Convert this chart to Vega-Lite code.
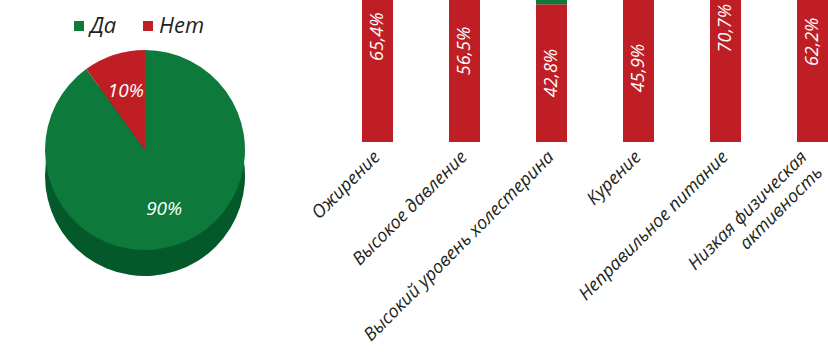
{
  "$schema": "https://vega.github.io/schema/vega-lite/v6.json",
  "padding": 0,
  "spacing": 0,
  "background": "white",
  "config": {"view": {"stroke": null}, "font": "Open Sans"},
  "datasets": {
    "pie": [
      {"part": "Да", "value": 90},
      {"part": "Нет", "value": 10}
    ],
    "bars": [
      {"factor": "Ожирение", "value": 65.4},
      {"factor": "Высокое давление", "value": 56.5},
      {"factor": "Высокий уровень холестерина", "value": 42.8},
      {"factor": "Курение", "value": 45.9},
      {"factor": "Неправильное питание", "value": 70.7},
      {"factor": "Низкая физическая активность", "value": 62.2}
    ]
  },
  "hconcat": [
    {
      "width": 290,
      "height": 300,
      "data": {"name": "pie"},
      "transform": [{"calculate": "datum.value + '%'", "as": "lbl"}],
      "encoding": {
        "theta": {"field": "value", "type": "quantitative", "stack": true},
        "order": {"field": "part", "sort": "ascending"}
      },
      "layer": [
        {
          "mark": {"type": "arc", "radius": 100, "yOffset": 26, "color": "#03592a"},
          "encoding": {}
        },
        {
          "mark": {"type": "arc", "radius": 100},
          "encoding": {
            "color": {
              "field": "part",
              "type": "nominal",
              "scale": {"domain": ["Да", "Нет"], "range": ["#0d7a3c", "#be1e24"]},
              "legend": {
                "title": null,
                "orient": "none",
                "direction": "horizontal",
                "legendX": 68,
                "legendY": 15,
                "symbolType": "square",
                "symbolSize": 100,
                "labelFontSize": 22,
                "labelFont": "Open Sans",
                "labelFontStyle": "italic",
                "labelColor": "#231f20",
                "labelOffset": 0,
                "columnPadding": 20
              }
            }
          }
        },
        {
          "mark": {"type": "text", "radius": 62, "fontStyle": "italic", "fontSize": 19, "color": "white"},
          "encoding": {"text": {"field": "lbl"}}
        }
      ]
    },
    {
      "width": 538,
      "height": 142,
      "data": {"name": "bars"},
      "transform": [
        {"calculate": "datum.value / 2", "as": "mid"},
        {"calculate": "replace(format(datum.value, '.1f'), '.', ',') + '%'", "as": "lbl"}
      ],
      "encoding": {
        "x": {
          "field": "factor",
          "type": "nominal",
          "sort": null,
          "scale": {"paddingInner": 0.6437, "paddingOuter": 0.4138, "align": 1},
          "axis": {
            "title": null,
            "labelAngle": -45,
            "labelAlign": "right",
            "labelBaseline": "middle",
            "labelFontSize": 18,
            "labelFont": "Open Sans",
            "labelFontStyle": "italic",
            "labelColor": "#231f20",
            "domain": false,
            "ticks": false,
            "labelPadding": 12,
            "labelOffset": {"condition": {"test": "datum.value == 'Низкая физическая активность'", "value": -8}, "value": 0},
            "labelLimit": 500,
            "labelOverlap": false,
            "labelLineHeight": 22,
            "labelExpr": "datum.value == 'Низкая физическая активность' ? ['Низкая физическая', 'активность'] : datum.label"
          }
        }
      },
      "layer": [
        {
          "mark": {"type": "bar", "color": "#be1e24", "clip": true},
          "encoding": {
            "y": {"field": "value", "type": "quantitative", "scale": {"domain": [0, 44.1], "nice": false, "zero": true}, "axis": null}
          }
        },
        {
          "mark": {"type": "bar", "color": "#0d7a3c", "clip": true},
          "encoding": {
            "y": {"field": "value", "type": "quantitative"},
            "y2": {"datum": 100}
          }
        },
        {
          "mark": {"type": "text", "angle": 270, "color": "white", "fontStyle": "italic", "fontSize": 18, "font": "Open Sans"},
          "encoding": {
            "y": {"field": "mid", "type": "quantitative"},
            "text": {"field": "lbl"}
          }
        }
      ]
    }
  ]
}
